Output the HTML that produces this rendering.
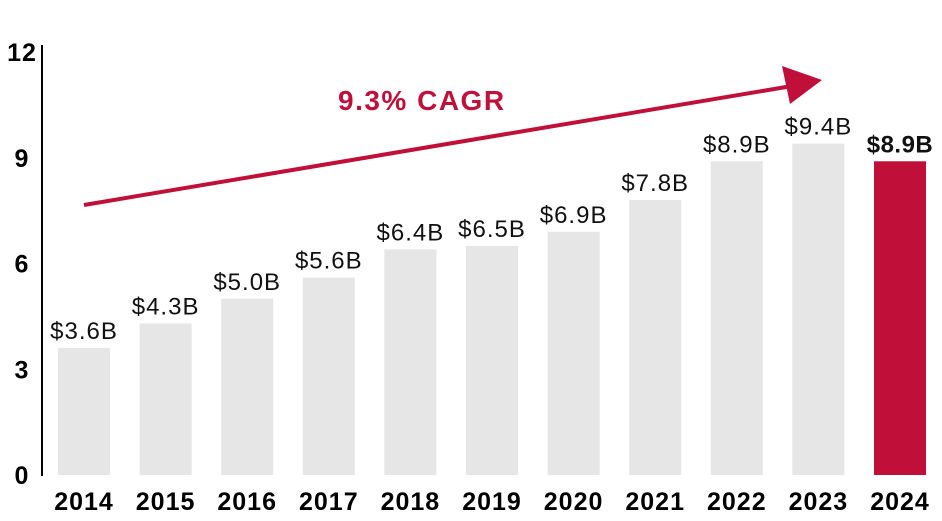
<!DOCTYPE html>
<html><head><meta charset="utf-8"><style>
html,body{margin:0;padding:0;background:#fff;}
svg{display:block;font-family:"Liberation Sans",sans-serif;}
</style></head><body>
<svg id="chart" width="942" height="521" viewBox="0 0 942 521">
<g id="bars"></g>
<g id="labels"></g>
<g id="xaxis"></g>
<g id="yaxis"></g>
<line x1="42" y1="45" x2="42" y2="476" stroke="#000" stroke-width="2"/>
<line x1="84" y1="205" x2="792" y2="86" stroke="#c0103a" stroke-width="4"/>
<polygon points="822,80 782,66 790,104" fill="#c0103a"/>
<text x="338" y="110" font-size="28" font-weight="bold" letter-spacing="1.5" fill="#c0103a">9.3% CAGR</text>
</svg>
<script>
const categories=["2014","2015","2016","2017","2018","2019","2020","2021","2022","2023","2024"];
const values=[3.6,4.3,5.0,5.6,6.4,6.5,6.9,7.8,8.9,9.4,8.9];
const valueLabels=["$3.6B","$4.3B","$5.0B","$5.6B","$6.4B","$6.5B","$6.9B","$7.8B","$8.9B","$9.4B","$8.9B"];
const yTicks=[0,3,6,9,12];
const NS="http://www.w3.org/2000/svg";
const y0=475,pxPerUnit=35.25,x0=58,pitch=81.6,bw=52;
function yScale(v){return y0-v*pxPerUnit;}
function xScale(i){return x0+i*pitch;}
function mk(tag,attrs,parent){const e=document.createElementNS(NS,tag);for(const k in attrs)e.setAttribute(k,attrs[k]);parent.appendChild(e);return e;}
const gb=document.getElementById('bars'),gl=document.getElementById('labels'),gx=document.getElementById('xaxis'),gy=document.getElementById('yaxis');
values.forEach((v,i)=>{
  const last=i===values.length-1;
  const r=mk('rect',{x:xScale(i),y:yScale(v),width:bw,height:y0-yScale(v),fill:last?'#c0103a':'#e6e6e7'},gb);
  
  
  const t=mk('text',{x:xScale(i)+bw/2,y:yScale(v)-9,'text-anchor':'middle','font-size':last?'24':'24','letter-spacing':last?'0.5':'1','font-weight':last?'bold':'normal',fill:'#111'},gl);
  t.textContent=valueLabels[i];
  
  
  const c=mk('text',{x:xScale(i)+bw/2,y:510,'text-anchor':'middle','font-size':'25','letter-spacing':'1','font-weight':'bold',fill:'#000'},gx);
  c.textContent=categories[i];
  
  
});
yTicks.forEach(v=>{
  const t=mk('text',{x:22,y:yScale(v)+9,'text-anchor':'middle','font-size':'25','letter-spacing':'1','font-weight':'bold',fill:'#000'},gy);
  t.textContent=String(v);
  
  
});
</script>
</body></html>
